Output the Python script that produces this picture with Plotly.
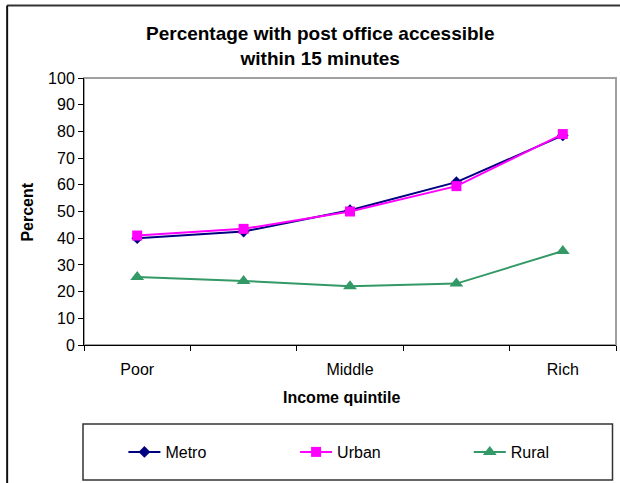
import plotly.graph_objects as go

# Income quintiles (1 = poorest, 5 = richest) and the axis labels shown
quintile = [1, 2, 3, 4, 5]
tick_labels = ["Poor", "", "Middle", "", "Rich"]

# Percentage of households with a post office within 15 minutes
metro = [40.0, 42.5, 50.5, 61.0, 78.5]
urban = [41.0, 43.5, 50.0, 59.5, 79.0]
rural = [25.5, 24.0, 22.0, 23.0, 35.2]

FONT = "Liberation Sans, Arial, sans-serif"

W, H = 620, 483
L, R, T, B = 83.5, 3.5, 78, 138
PW, PH = W - L - R, H - T - B


def px(x):
    return (x - L) / PW


def py(y):
    return (H - B - y) / PH


fig = go.Figure()
series = [
    ("Metro", metro, "#000080", "diamond", 9, "legend", 123),
    ("Urban", urban, "#FF00FF", "square", 10, "legend2", 295),
    ("Rural", rural, "#339966", "triangle-up", 12, "legend3", 469),
]
legends = {}
for name, vals, col, sym, size, leg, lx in series:
    fig.add_trace(go.Scatter(
        x=quintile, y=vals, name=name, mode="lines+markers",
        line=dict(color=col, width=2),
        marker=dict(symbol=sym, size=size, color=col, line=dict(width=0)),
        legend=leg,
    ))
    legends[leg] = dict(x=px(lx), y=py(452), xanchor="left", yanchor="middle",
                        bgcolor="rgba(0,0,0,0)", borderwidth=0,
                        font=dict(size=16, family=FONT, color="black"),
                        itemwidth=32)

shapes = [
    # plot area frame
    dict(type="rect", xref="paper", yref="paper", x0=0, x1=1, y0=0, y1=1,
         line=dict(color="#A0A0A0", width=2), layer="below"),
    # chart border (top and left edges)
    dict(type="line", xref="paper", yref="paper", x0=px(6.5), x1=px(640),
         y0=py(5.5), y1=py(5.5), line=dict(color="#333333", width=2)),
    dict(type="line", xref="paper", yref="paper", x0=px(6.5), x1=px(6.5),
         y0=py(5.5), y1=py(500), line=dict(color="#111111", width=2)),
    # legend frame
    dict(type="rect", xref="paper", yref="paper", x0=px(82.5), x1=px(613),
         y0=py(424), y1=py(480), line=dict(color="#333333", width=1.5)),
]

annotations = [
    dict(text="<b>Percentage with post office accessible<br>within 15 minutes</b>",
         xref="paper", yref="paper", x=px(320), y=py(45.5),
         xanchor="center", yanchor="middle", showarrow=False,
         font=dict(size=19, family=FONT, color="black")),
    dict(text="<b>Income quintile</b>", xref="paper", yref="paper",
         x=px(341), y=py(397), xanchor="center", yanchor="middle",
         showarrow=False, font=dict(size=16, family=FONT, color="black")),
    dict(text="<b>Percent</b>", xref="paper", yref="paper",
         x=px(26), y=py(212), xanchor="center", yanchor="middle",
         textangle=-90, showarrow=False,
         font=dict(size=16, family=FONT, color="black")),
]

fig.update_layout(
    width=W, height=H,
    margin=dict(l=L, r=R, t=T, b=B, pad=0),
    paper_bgcolor="white", plot_bgcolor="white",
    font=dict(family=FONT, size=16, color="black"),
    showlegend=True,
    shapes=shapes,
    annotations=annotations,
    xaxis=dict(range=[0.5, 5.5], tickvals=quintile, ticktext=tick_labels,
               ticks="", showgrid=False, zeroline=False,
               showline=True, linecolor="black", linewidth=1,
               ticklabelstandoff=10,
               minor=dict(tickvals=[0.5, 1.5, 2.5, 3.5, 4.5, 5.5],
                          ticks="outside", ticklen=5, tickcolor="black",
                          showgrid=False),
               tickfont=dict(size=16, family=FONT, color="black")),
    yaxis=dict(range=[0, 100], dtick=10, ticks="outside", ticklen=5,
               tickcolor="black", showgrid=False, zeroline=False,
               showline=True, linecolor="black", linewidth=1,
               tickfont=dict(size=16, family=FONT, color="black")),
    **legends,
)

fig.write_html("out.html")
